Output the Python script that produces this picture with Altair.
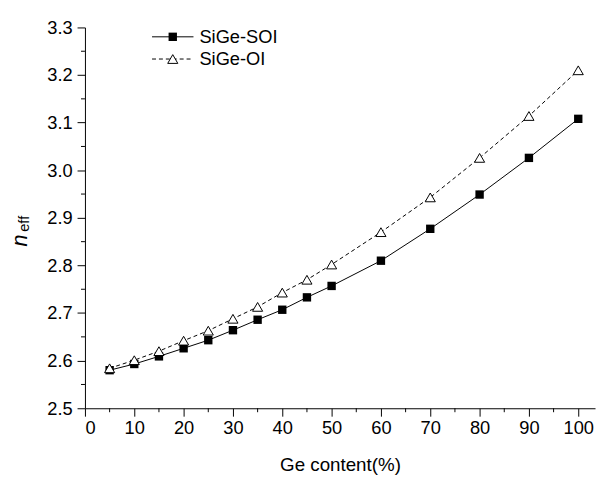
import altair as alt
import pandas as pd

ge = [5, 10, 15, 20, 25, 30, 35, 40, 45, 50, 60, 70, 80, 90, 100]
soi = [2.580, 2.593, 2.609, 2.626, 2.643, 2.664, 2.686, 2.707, 2.733, 2.757, 2.810, 2.877, 2.949, 3.026, 3.108]
oi = [2.584, 2.601, 2.620, 2.642, 2.663, 2.688, 2.713, 2.743, 2.770, 2.802, 2.870, 2.943, 3.026, 3.114, 3.210]

x_major = list(range(0, 101, 10))
x_minor = list(range(5, 100, 10))
y_major = [round(2.5 + 0.1 * i, 1) for i in range(9)]
y_minor = [round(2.55 + 0.1 * i, 2) for i in range(8)]

FONT = "Liberation Sans"
W, H = 517, 386

df_soi = pd.DataFrame({"x": ge, "y": soi})
df_oi = pd.DataFrame({"x": ge, "y": oi})

xs = alt.Scale(domain=[0, 103.4], nice=False, zero=False)
ys = alt.Scale(domain=[2.5, 3.3], nice=False, zero=False)

xaxis = alt.Axis(values=x_major, format="d", title="Ge content(%)", tickSize=8,
                 labelPadding=3, titlePadding=19)
yaxis = alt.Axis(values=y_major, format=".1f", title=None, tickSize=8, labelPadding=5)

line_soi = alt.Chart(df_soi).mark_line(color="black", strokeWidth=1).encode(
    x=alt.X("x:Q", scale=xs, axis=xaxis),
    y=alt.Y("y:Q", scale=ys, axis=yaxis),
)
pts_soi = alt.Chart(df_soi).mark_point(shape="square", filled=True, color="black", size=72, opacity=1).encode(
    x=alt.X("x:Q", scale=xs), y=alt.Y("y:Q", scale=ys)
)
line_oi = alt.Chart(df_oi).mark_line(color="black", strokeWidth=1, strokeDash=[4, 3]).encode(
    x=alt.X("x:Q", scale=xs), y=alt.Y("y:Q", scale=ys)
)
pts_oi = alt.Chart(df_oi).mark_point(shape="triangle-up", filled=True, fill="white", stroke="black",
                                      strokeWidth=1, size=105, opacity=1).encode(
    x=alt.X("x:Q", scale=xs), y=alt.Y("y:Q", scale=ys)
)

# minor ticks
xmin_df = pd.DataFrame({"x": x_minor})
ymin_df = pd.DataFrame({"y": y_minor})
xminor = alt.Chart(xmin_df).mark_rule(color="black", strokeWidth=1, clip=False).encode(
    x=alt.X("x:Q", scale=xs), y=alt.value(H), y2=alt.value(H + 4)
)
yminor = alt.Chart(ymin_df).mark_rule(color="black", strokeWidth=1, clip=False).encode(
    y=alt.Y("y:Q", scale=ys), x=alt.value(0), x2=alt.value(-4)
)

# y title: italic n with subscript eff
ytitle_n = alt.Chart(pd.DataFrame({"t": ["n"]})).mark_text(
    angle=270, font=FONT, fontSize=22, fontStyle="italic", align="center", baseline="alphabetic", color="black"
).encode(text="t:N", x=alt.value(-59), y=alt.value(216))
ytitle_eff = alt.Chart(pd.DataFrame({"t": ["eff"]})).mark_text(
    angle=270, font=FONT, fontSize=15, align="center", baseline="alphabetic", color="black"
).encode(text="t:N", x=alt.value(-57), y=alt.value(199))

# legend
leg_y1, leg_y2 = 9.5, 32
leg_line1 = alt.Chart(pd.DataFrame({"a": [0]})).mark_rule(color="black", strokeWidth=1).encode(
    x=alt.value(68), x2=alt.value(110), y=alt.value(leg_y1))
leg_pt1 = alt.Chart(pd.DataFrame({"a": [0]})).mark_point(shape="square", filled=True, color="black", size=72, opacity=1).encode(
    x=alt.value(89), y=alt.value(leg_y1))
leg_txt1 = alt.Chart(pd.DataFrame({"t": ["SiGe-SOI"]})).mark_text(
    font=FONT, fontSize=18.5, align="left", baseline="middle", color="black").encode(
    text="t:N", x=alt.value(116), y=alt.value(leg_y1))
leg_line2 = alt.Chart(pd.DataFrame({"a": [0]})).mark_rule(color="black", strokeWidth=1, strokeDash=[4, 3]).encode(
    x=alt.value(68), x2=alt.value(110), y=alt.value(leg_y2))
leg_pt2 = alt.Chart(pd.DataFrame({"a": [0]})).mark_point(shape="triangle-up", filled=True, fill="white", stroke="black",
                                                         strokeWidth=1, size=105, opacity=1).encode(
    x=alt.value(89), y=alt.value(leg_y2))
leg_txt2 = alt.Chart(pd.DataFrame({"t": ["SiGe-OI"]})).mark_text(
    font=FONT, fontSize=18.5, align="left", baseline="middle", color="black").encode(
    text="t:N", x=alt.value(116), y=alt.value(leg_y2))

chart = alt.layer(
    line_soi, line_oi, pts_soi, pts_oi, xminor, yminor, ytitle_n, ytitle_eff,
    leg_line1, leg_line2, leg_pt1, leg_pt2, leg_txt1, leg_txt2
).properties(
    width=W, height=H,
    autosize=alt.AutoSizeParams(type="none"),
    padding={"left": 78, "top": 16.5, "right": 2, "bottom": 70},
    background="white",
).configure_view(stroke=None).configure_axis(
    grid=False, domainColor="black", tickColor="black", labelColor="black", titleColor="black",
    labelFont=FONT, titleFont=FONT, labelFontSize=18.5, titleFontSize=19, titleFontWeight="normal",
    domainWidth=1, tickWidth=1
)

chart.save("out.html", embed_options={"renderer": "svg", "actions": False})
